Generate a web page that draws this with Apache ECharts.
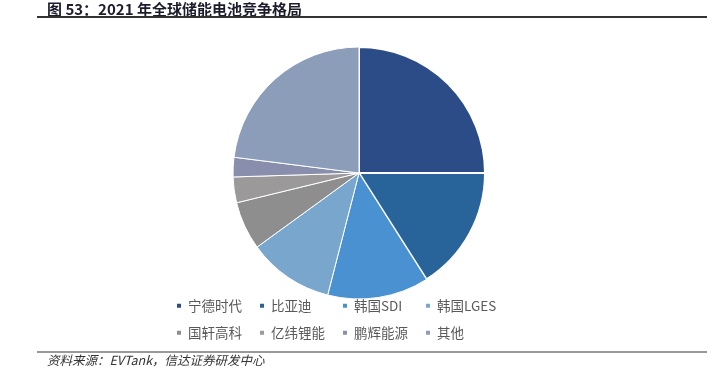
<!DOCTYPE html>
<html>
<head>
<meta charset="utf-8">
<script src="https://cdn.jsdelivr.net/npm/echarts@6/dist/echarts.min.js"></script>
<style>
html, body { margin: 0; padding: 0; background: #fff; }
#container { width: 728px; height: 375px; }
</style>
</head>
<body>
<div id="container"></div>
<script>
var dom = document.getElementById("container");
var myChart = echarts.init(dom);

var names = ['宁德时代', '比亚迪', '韩国SDI', '韩国LGES', '国轩高科', '亿纬锂能', '鹏辉能源', '其他'];
var shares = [25.0, 16.0, 13.0, 11.0, 6.2, 3.3, 2.5, 23.0];
var colors = ['#2B4C87', '#286499', '#4A91D1', '#78A6CD', '#8E8E8E', '#9B9999', '#8A8EAD', '#8B9DB9'];

var pieData = [];
for (var i = 0; i < names.length; i++) {
    pieData.push({
        value: shares[i],
        name: names[i],
        itemStyle: { color: colors[i], borderWidth: i < 2 ? 2 : 1 }
    });
}

// one legend per item so the columns line up like the original
var legends = [];
for (var j = 0; j < names.length; j++) {
    legends.push({
        left: 175 + (j % 4) * 83,
        top: 299 + Math.floor(j / 4) * 27,
        padding: 0,
        icon: 'rect',
        itemWidth: 6,
        itemHeight: 6,
        data: [names[j]],
        textStyle: {
            color: '#595959',
            fontSize: 13.5,
            fontFamily: 'Noto Sans CJK SC',
            padding: [0, 0, 0, 1]
        }
    });
}

var option = {
    animation: false,
    color: colors,
    legend: legends,
    graphic: [
        {
            type: 'text', left: 47, top: 2,
            style: {
                text: '图 53：2021 年全球储能电池竞争格局',
                fill: '#1c1c2c',
                font: 'bold 15px "Noto Sans CJK SC"'
            }
        },
        {
            type: 'line',
            shape: { x1: 37, y1: 17, x2: 707, y2: 17 },
            style: { stroke: '#333', lineWidth: 2 }
        },
        {
            type: 'line',
            shape: { x1: 37, y1: 352, x2: 707, y2: 352 },
            style: { stroke: '#777', lineWidth: 1.5 }
        },
        {
            type: 'text', left: 47, top: 354,
            style: {
                text: '资料来源：EVTank，信达证券研发中心',
                fill: '#333',
                font: 'italic 12.5px "Noto Sans CJK SC"'
            }
        }
    ],
    series: [
        {
            name: '',
            type: 'pie',
            center: [359, 173],
            radius: [0, 126],
            startAngle: 90,
            clockwise: true,
            avoidLabelOverlap: false,
            itemStyle: { borderColor: '#fff' },
            label: { show: false },
            labelLine: { show: false },
            emphasis: { disabled: true },
            data: pieData
        }
    ]
};
myChart.setOption(option, true);
</script>
</body>
</html>
